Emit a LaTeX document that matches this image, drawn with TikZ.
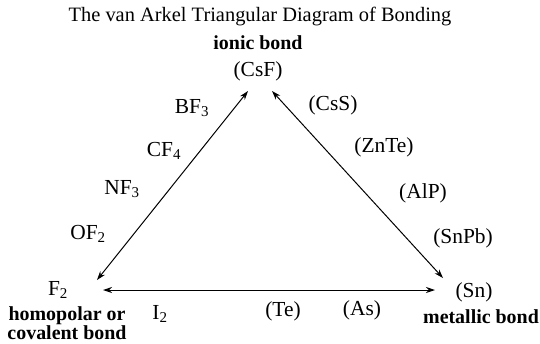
\documentclass[tikz,border=0pt]{standalone}
\usepackage{fontspec}
\setmainfont{Liberation Serif}
\usetikzlibrary{arrows.meta}
\newcommand{\sbs}[1]{\textsubscript{#1}}
\begin{document}
\begin{tikzpicture}[x=1bp,y=-1bp,
  ttl/.style={inner sep=0pt,font=\fontsize{20.5}{24}\selectfont},
  lbl/.style={inner sep=0pt,font=\fontsize{21.5}{24}\selectfont},
  blbl/.style={inner sep=0pt,font=\fontsize{20}{17.5}\selectfont\bfseries,align=center},
  arr/.style={line width=1pt,{Stealth[length=9bp,width=6bp]}-{Stealth[length=9bp,width=6bp]}}]
\useasboundingbox (0,0) rectangle (540,343);
\node[ttl] (title) at (260,17) {The van Arkel Triangular Diagram of Bonding};
\node[blbl] (ionic) at (258,43) {ionic bond};
\node[lbl] (csf) at (258,71) {(CsF)};
\coordinate (top1) at (248,91);
\coordinate (top2) at (272,91);
\coordinate (left1) at (97,280);
\coordinate (left2) at (103,290);
\coordinate (right1) at (443,278);
\coordinate (right2) at (435,290);
\draw[arr] (left1) -- (top1);
\draw[arr] (top2) -- (right1);
\draw[arr] (left2) -- (right2);
\node[lbl] (bf3) at (192,108) {BF\sbs{3}};
\node[lbl] (cf4) at (164,151) {CF\sbs{4}};
\node[lbl] (nf3) at (122,189) {NF\sbs{3}};
\node[lbl] (of2) at (88,234) {OF\sbs{2}};
\node[lbl] (f2) at (58,290) {F\sbs{2}};
\node[blbl] (homo) at (67,323.5) {homopolar or\\covalent bond};
\node[lbl] (i2) at (160,314) {I\sbs{2}};
\node[lbl] (te) at (283,311) {(Te)};
\node[lbl] (as) at (362,310) {(As)};
\node[lbl] (sn) at (474,292) {(Sn)};
\node[blbl] (metal) at (481,317) {metallic bond};
\node[lbl] (css) at (333,105) {(CsS)};
\node[lbl] (znte) at (384,147) {(ZnTe)};
\node[lbl] (alp) at (423,193) {(AlP)};
\node[lbl] (snpb) at (463,238) {(SnPb)};
\end{tikzpicture}
\end{document}
